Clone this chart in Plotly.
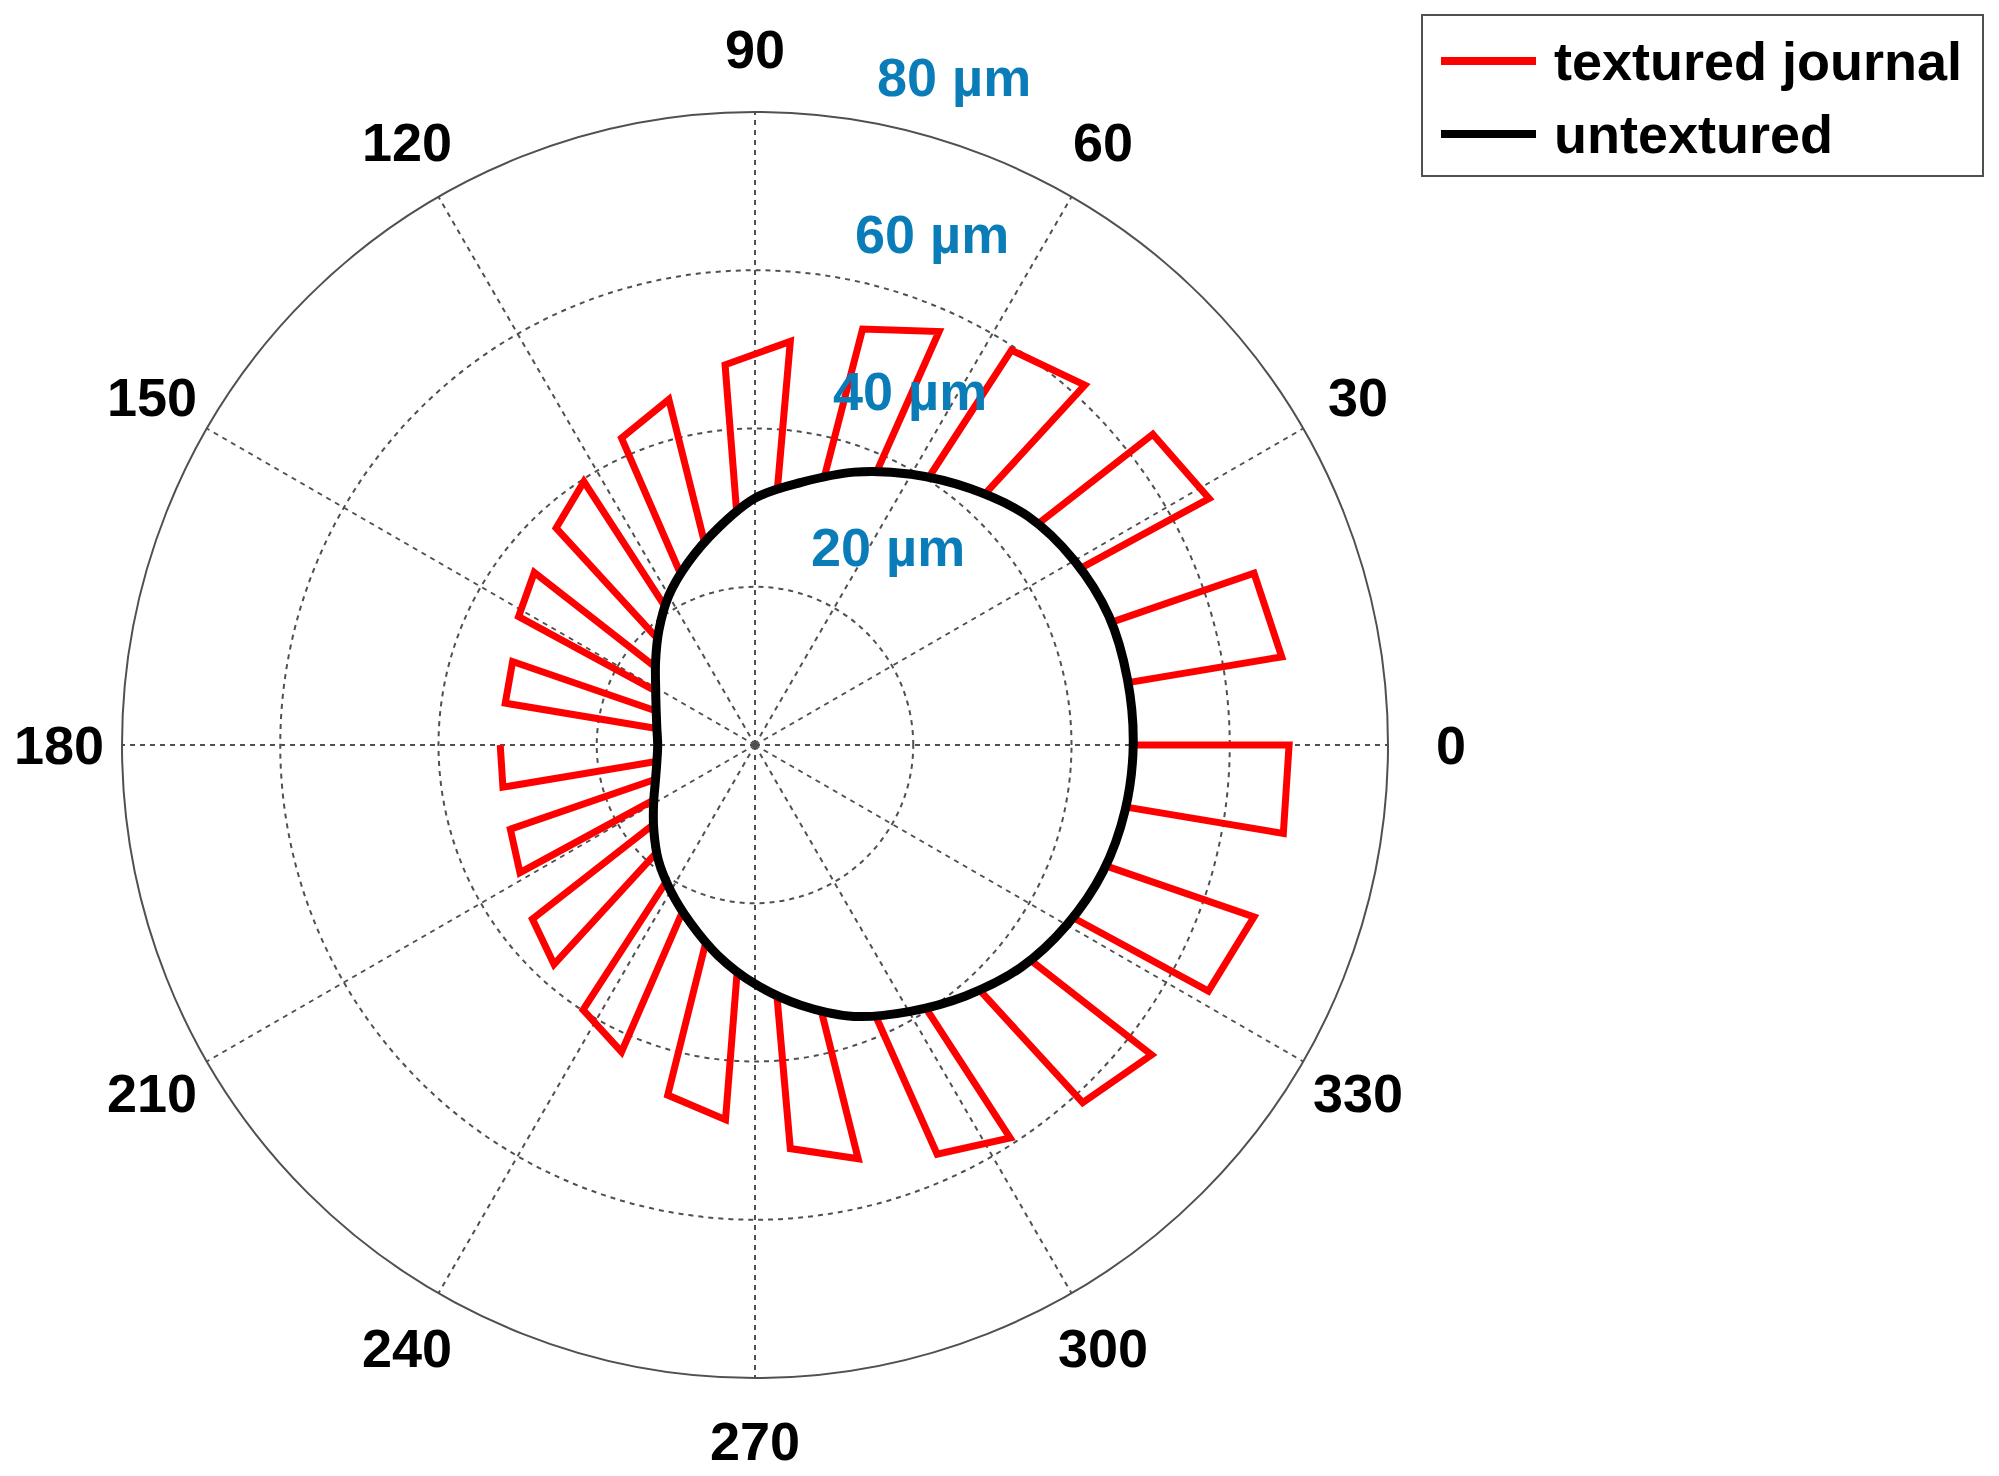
import numpy as np
import plotly.graph_objects as go

# untextured journal: film profile (deg, um)
theta_untex = [0, 10, 20, 30, 40, 50, 60, 70, 80, 90, 100, 110, 120, 130, 140, 150, 160, 170, 180,
               190, 200, 210, 220, 230, 240, 250, 260, 270, 280, 290, 300, 310, 320, 330, 340, 350, 360]
r_untex = [47.8, 47.8, 47.6, 46.6, 45.0, 42.3, 39.5, 36.7, 33.7, 31.2, 27.7, 24.6, 21.8, 18.9,
           16.4, 14.5, 13.3, 12.6, 12.3, 12.6, 13.4, 14.8, 16.7, 19.0, 21.3, 23.9, 27.0, 30.2,
           33.4, 36.5, 38.9, 41.4, 43.8, 45.5, 46.8, 47.5, 47.8]

# textured journal: dimple edges (deg) and film thickness at the edges (um)
# the series starts at 180 deg, inside a dimple
dimple_start = [180.0, 199.0, 218.0, 237.0, 256.0, 275.0, 294.0, 312.5, 331.5,
                350.5, 9.5, 28.5, 47.5, 66.0, 85.0, 104.0, 123.0, 142.0, 161.0]
dimple_end = [189.5, 208.5, 227.5, 246.5, 265.5, 284.0, 303.0, 322.0, 341.0,
              360.0, 19.0, 38.0, 57.0, 75.5, 94.5, 113.5, 132.5, 151.5, 170.5]
r_in_start = [12.3, 13.2, 16.3, 20.6, 25.6, 31.6, 37.5, 41.9, 45.7,
              47.6, 47.8, 46.8, 43.2, 38.2, 32.5, 26.3, 21.2, 16.0, 13.2]
r_in_end = [12.5, 14.6, 18.4, 22.8, 28.5, 34.6, 39.6, 44.0, 46.9,
            47.8, 47.6, 45.5, 40.5, 35.0, 29.8, 23.6, 18.2, 14.3, 12.6]
r_out_start = [32.2, 32.7, 35.7, 39.9, 45.6, 51.2, 56.6, 61.3, 65.2,
               67.7, 67.5, 65.3, 61.7, 57.2, 51.2, 45.0, 39.7, 35.4, 32.4]
r_out_end = [32.3, 33.8, 37.6, 42.3, 47.5, 53.9, 59.2, 63.6, 66.7,
             67.5, 66.7, 63.8, 59.5, 54.3, 48.2, 42.3, 37.2, 34.0, 32.0]

radial_ticks = [20, 40, 60, 80]
angle_ticks = list(range(0, 360, 30))

legend_names = ["textured journal", "untextured"]
legend_colors = ["#ff0000", "#000000"]

W, H = 1999, 1476
CX, CY, R_PX = 755, 745, 633   # polar centre and radius in px
RMAX = 80
FONT = "Liberation Sans, Arial"
FS = 54

def px2paper(x, y):
    return x / W, 1 - y / H

# red outline, one piece per dimple
tex_theta, tex_r = [], []
for i in range(len(dimple_start)):
    if i > 0:
        tex_theta.append(dimple_start[i]); tex_r.append(r_in_start[i])
    tex_theta += [dimple_start[i], dimple_end[i], dimple_end[i], None]
    tex_r += [r_out_start[i], r_out_end[i], r_in_end[i], None]

fig = go.Figure()

fig.add_trace(go.Scatterpolar(
    r=tex_r, theta=tex_theta, mode="lines", connectgaps=False,
    line=dict(color="#ff0000", width=7), showlegend=False, hoverinfo="skip"))

fig.add_trace(go.Scatterpolar(
    r=r_untex, theta=theta_untex, mode="lines",
    line=dict(color="#000000", width=9, shape="spline", smoothing=1.0),
    showlegend=False, hoverinfo="skip"))

grid = dict(color="#505050", dash="5px,5px", width=1.5)

fig.update_layout(
    width=W, height=H,
    margin=dict(l=0, r=0, t=0, b=0),
    paper_bgcolor="white",
    polar=dict(
        domain=dict(x=[(CX - R_PX) / W, (CX + R_PX) / W],
                    y=[1 - (CY + R_PX) / H, 1 - (CY - R_PX) / H]),
        bgcolor="white",
        radialaxis=dict(range=[0, RMAX], tickvals=radial_ticks[:-1], showticklabels=False,
                        ticks="", showline=False, showgrid=True,
                        gridcolor=grid["color"], griddash=grid["dash"], gridwidth=grid["width"]),
        angularaxis=dict(direction="counterclockwise", rotation=0,
                         tickvals=angle_ticks, showticklabels=False, ticks="",
                         showline=True, linecolor="#505050", linewidth=2,
                         showgrid=True, gridcolor=grid["color"],
                         griddash=grid["dash"], gridwidth=grid["width"]),
    ),
)

# angle labels centred on a ring just outside the plot, like matlab's polar()
for a in angle_ticks:
    t = np.radians(a)
    x, y = px2paper(CX + 1.1 * R_PX * np.cos(t), CY - 1.1 * R_PX * np.sin(t))
    fig.add_annotation(x=x, y=y, xref="paper", yref="paper", text=str(a),
                       showarrow=False, xanchor="center", yanchor="middle",
                       font=dict(family=FONT, size=FS, color="black", weight="bold"))

# radial labels next to the 82 deg spoke
ang = np.radians(82)
for v in radial_ticks:
    rp = v / RMAX * R_PX
    x, y = px2paper(CX + rp * np.cos(ang) + 32, CY - rp * np.sin(ang) - 41)
    fig.add_annotation(x=x, y=y, xref="paper", yref="paper", text=f"{v} \u00b5m",
                       showarrow=False, xanchor="left", yanchor="middle",
                       font=dict(family=FONT, size=FS, color="#0a7db8", weight="bold"))

# legend drawn by hand so the line samples are as long as in the original
x0, y1 = px2paper(1422, 15)
x1, y0 = px2paper(1983, 176)
fig.add_shape(type="rect", xref="paper", yref="paper", x0=x0, x1=x1, y0=y0, y1=y1,
              line=dict(color="#505050", width=2), fillcolor="white")
for k, (name, col) in enumerate(zip(legend_names, legend_colors)):
    lx0, yy = px2paper(1441, 61 + 73 * k)
    lx1, _ = px2paper(1536, 0)
    tx, _ = px2paper(1552, 0)
    fig.add_shape(type="line", xref="paper", yref="paper",
                  x0=lx0, x1=lx1, y0=yy, y1=yy, line=dict(color=col, width=8))
    fig.add_annotation(x=tx, y=yy, xref="paper", yref="paper",
                       text=name, showarrow=False, xanchor="left", yanchor="middle",
                       font=dict(family=FONT, size=FS, color="black", weight="bold"))

# page has a default 8px body margin; drop it so the figure sits at the corner
fig.write_html("out.html", config={"displayModeBar": False},
               post_script="document.body.style.margin='0';")
